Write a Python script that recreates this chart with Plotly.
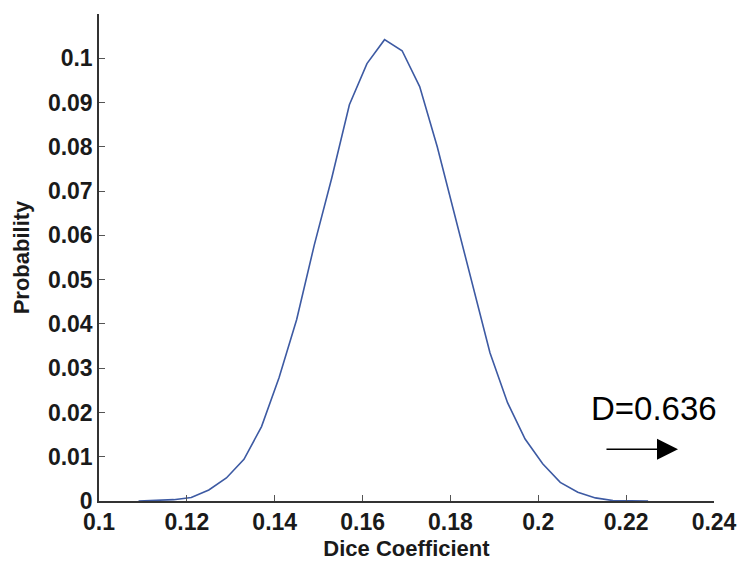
import plotly.graph_objects as go

dice = [0.109, 0.113, 0.117, 0.121, 0.125, 0.129, 0.133, 0.137, 0.141, 0.145,
        0.149, 0.153, 0.157, 0.161, 0.165, 0.169, 0.173, 0.177, 0.181, 0.185,
        0.189, 0.193, 0.197, 0.201, 0.205, 0.209, 0.213, 0.217, 0.221, 0.225]
prob = [0.0, 0.0001, 0.0003, 0.0008, 0.0025, 0.0052, 0.0094, 0.0168, 0.0279, 0.041,
        0.0578, 0.073, 0.0895, 0.0988, 0.1042, 0.1017, 0.0936, 0.0800, 0.0645, 0.049,
        0.0335, 0.0222, 0.0140, 0.0084, 0.0042, 0.0020, 0.0007, 0.0001, 0.0, 0.0]

x_ticks = [0.1, 0.12, 0.14, 0.16, 0.18, 0.2, 0.22, 0.24]
x_tick_labels = ["0.1", "0.12", "0.14", "0.16", "0.18", "0.2", "0.22", "0.24"]
y_ticks = [0, 0.01, 0.02, 0.03, 0.04, 0.05, 0.06, 0.07, 0.08, 0.09, 0.1]
y_tick_labels = ["0", "0.01", "0.02", "0.03", "0.04", "0.05", "0.06", "0.07", "0.08", "0.09", "0.1"]

label_font = dict(family="Liberation Sans, Arial, sans-serif", size=22, color="#1a1a1a")
tick_font = dict(family="Liberation Sans, Arial, sans-serif", size=23,
                 color="#1a1a1a", weight="bold")

fig = go.Figure()
fig.add_trace(go.Scatter(x=dice, y=prob, mode="lines",
                         line=dict(color="#3d5aa3", width=1.6), showlegend=False))

fig.update_xaxes(range=[0.1, 0.24], tickvals=x_ticks, ticktext=x_tick_labels,
                 showline=True, linecolor="#333333", linewidth=1.5,
                 ticks="inside", ticklen=6, tickcolor="#555555", tickwidth=1,
                 showgrid=False, zeroline=False, tickfont=tick_font,
                 title=dict(text="<b>Dice Coefficient</b>", font=label_font, standoff=6))
fig.update_yaxes(range=[0, 0.11], tickvals=y_ticks, ticktext=y_tick_labels,
                 showline=True, linecolor="#333333", linewidth=1.5,
                 ticks="inside", ticklen=6, tickcolor="#555555", tickwidth=1,
                 showgrid=False, zeroline=False, tickfont=tick_font,
                 title=dict(text="<b>Probability</b>", font=label_font, standoff=12))

fig.add_annotation(x=0.2318, y=0.0117, xref="x", yref="y", text="",
                   showarrow=True, ax=-73, ay=0, axref="pixel", ayref="pixel",
                   arrowhead=2, arrowsize=2.8, arrowwidth=1.5, arrowcolor="black")
fig.add_annotation(x=0.2264, y=0.0209, xref="x", yref="y", text="D=0.636",
                   showarrow=False, xanchor="center", yanchor="middle",
                   font=dict(family="Liberation Sans, Arial, sans-serif", size=33, color="black"))

fig.update_layout(width=749, height=569, margin=dict(l=99, r=30, t=14, b=65),
                  paper_bgcolor="white", plot_bgcolor="white")
fig.write_html("out.html")
